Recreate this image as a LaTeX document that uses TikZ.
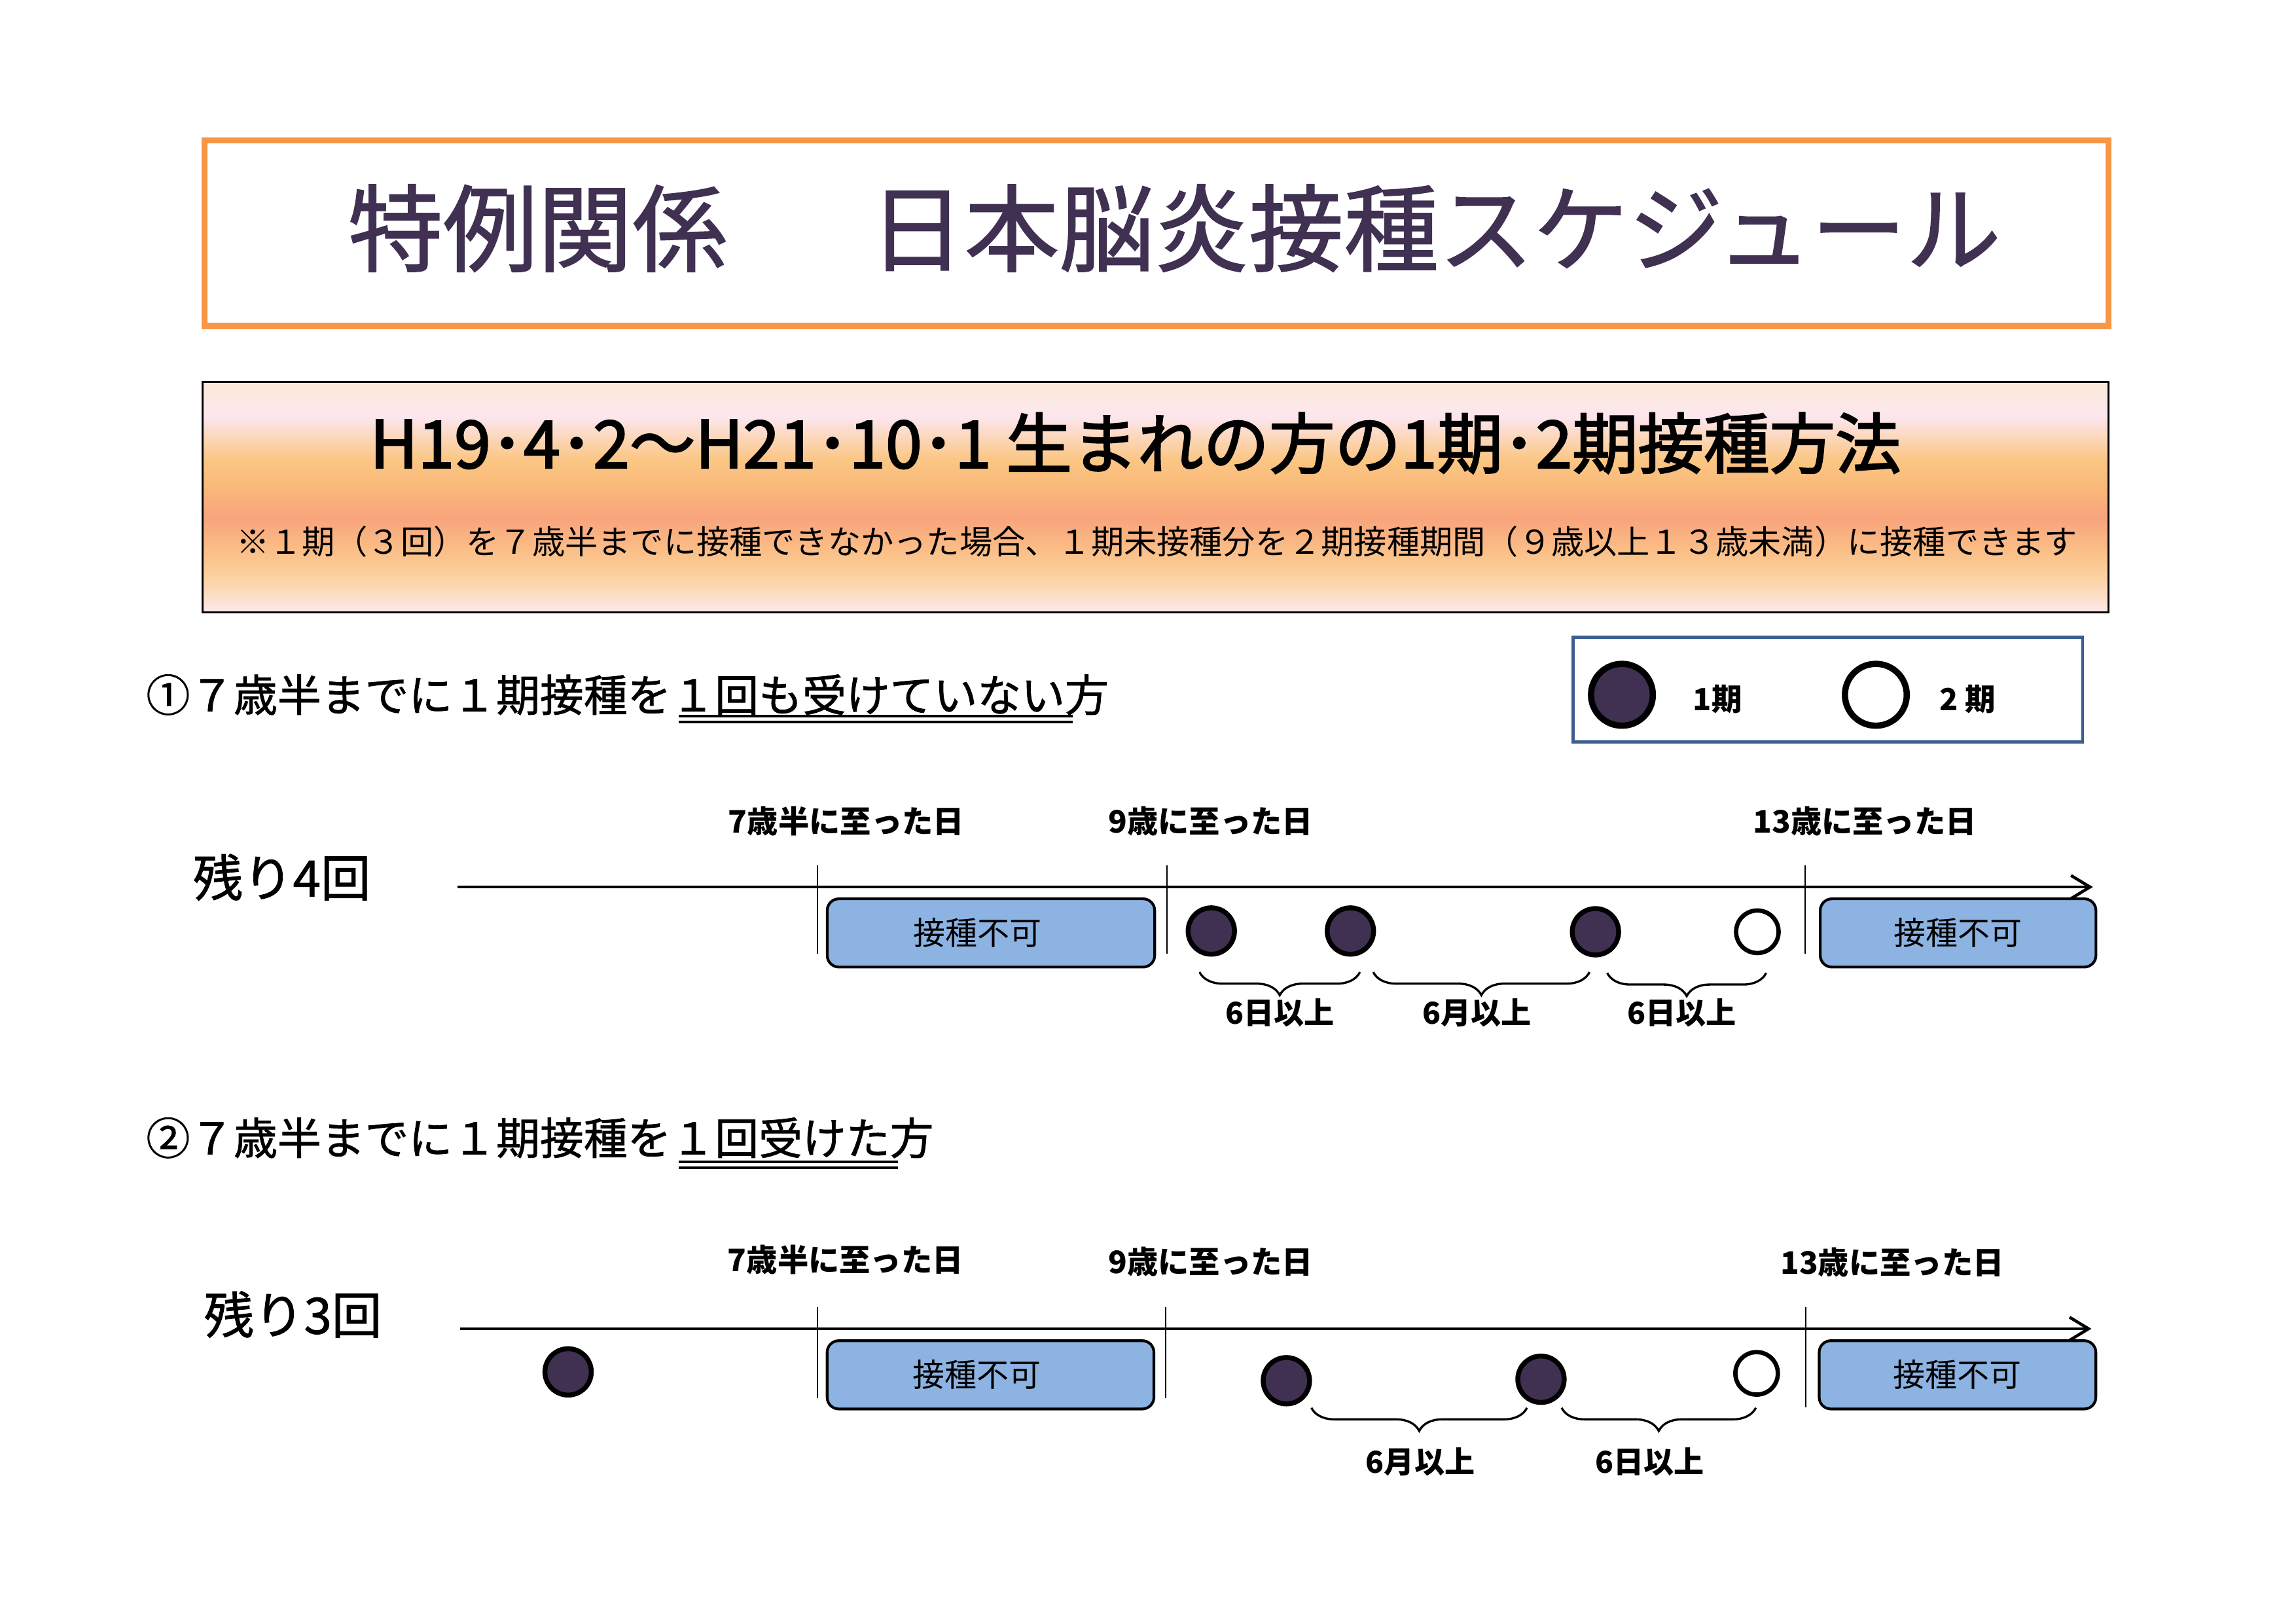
\documentclass[tikz,border=0pt]{standalone}
\usepackage{fontspec}
\setmainfont{Noto Sans CJK JP}
\newfontfamily\medfont[FakeBold=1.2]{Noto Sans CJK JP}
\newfontfamily\heavyfont[FakeBold=2.4]{Noto Sans CJK JP}
\usetikzlibrary{arrows.meta,decorations.pathreplacing}
\definecolor{titlepurple}{HTML}{403152}
\definecolor{frameorange}{HTML}{F79646}
\definecolor{legendblue}{HTML}{3B5E8F}
\definecolor{ngblue}{HTML}{8DB3E2}
\definecolor{sunA}{HTML}{FDE9EC}
\definecolor{sunB}{HTML}{FBD3A2}
\definecolor{sunC}{HTML}{FBBE86}
\definecolor{sunD}{HTML}{F8A47C}
\definecolor{sunE}{HTML}{FAB97A}
\definecolor{sunF}{HTML}{FBC683}
\definecolor{sunG}{HTML}{FCE6EE}
\definecolor{sunH}{HTML}{FCEAD8}
\pgfdeclareverticalshading{sunset}{100bp}{color(0bp)=(sunA); color(25bp)=(sunA); color(32.5bp)=(sunB); color(38.5bp)=(sunC); color(45.5bp)=(sunD); color(52.5bp)=(sunE); color(58bp)=(sunF); color(67.5bp)=(sunG); color(75bp)=(sunH); color(100bp)=(sunH)}
\begin{document}
\begin{tikzpicture}[x=0.19038mm, y=-0.19038mm,
	dot1/.style={circle, draw=black, line width=1.8pt, fill=titlepurple, minimum size=6.0mm, inner sep=0pt},
	dot2/.style={circle, draw=black, line width=1.6pt, fill=white, minimum size=5.5mm, inner sep=0pt},
	ngbox/.style={draw=black, line width=1pt, fill=ngblue, rounded corners=4.3pt, minimum height=8.83mm, inner sep=0pt, font=\fontsize{11.8}{14}\selectfont},
	agelabel/.style={font=\fontsize{11.4}{13}\selectfont\bfseries, inner sep=0pt},
	gaplabel/.style={font=\fontsize{11.1}{13}\selectfont\bfseries, inner sep=0pt},
	restlabel/.style={font=\fontsize{18.4}{22}\selectfont\medfont, inner sep=0pt},
	heading/.style={font=\fontsize{16.1}{20}\selectfont\medfont, anchor=west, inner sep=0pt},
	axis/.style={line width=1.1pt, -{Straight Barb[length=7pt,width=8.5pt]}},
	tick/.style={line width=0.55pt},
	gap/.style={line width=0.8pt, decorate, decoration={brace, mirror, amplitude=8.5pt}},
	uline/.style={line width=1pt}]
		\fill[white] (0,0) rectangle (1560,1103);
		\useasboundingbox (0,0) rectangle (1560,1103);
		\draw[draw=frameorange, line width=2.3pt] (139,95.3) rectangle (1432.5,221.5);
		\node[titlepurple, inner sep=0pt, font=\fontsize{34.9}{40}\selectfont\medfont] (title) at (798,155) {特例関係\hspace{1.5em}日本脳炎接種スケジュール};
		\shadedraw[shading=sunset, draw=black, line width=0.8pt] (137.6,259.4) rectangle (1432.5,416);
		\node[inner sep=0pt, font=\fontsize{24.2}{28}\selectfont\heavyfont] (subtitle) at (771.5,301) {H19･4･2～H21･10･1 生まれの方の1期･2期接種方法};
		\node[inner sep=0pt, font=\fontsize{12.1}{14}\selectfont] (note) at (786,368) {※１期（３回）を７歳半までに接種できなかった場合、１期未接種分を２期接種期間（９歳以上１３歳未満）に接種できます};
		\draw[draw=legendblue, line width=1.2pt] (1069,433) rectangle (1415,504);
		\node[dot1, line width=2.3pt, minimum size=8mm] (key1) at (1102,472) {};
		\node[gaplabel, font=\fontsize{11.2}{13}\selectfont\bfseries] (key1 text) at (1167,475) {1期};
		\node[dot2, line width=2.3pt, minimum size=8mm] (key2) at (1274.5,472) {};
		\node[gaplabel, font=\fontsize{11.2}{13}\selectfont\bfseries] (key2 text) at (1337,475) {2 期};
		\node[heading] (case1) at (99,472) {①７歳半までに１期接種を１回も受けていない方};
		\draw[uline] (461,486.5) -- (729,486.5);
		\draw[uline] (461,490.5) -- (729,490.5);
		\node[restlabel] (rest4) at (191.5,596) {残り4回};
		\node[agelabel] (age1a) at (575,558) {7歳半に至った日};
		\node[agelabel] (age1b) at (822.5,558) {9歳に至った日};
		\node[agelabel] (age1c) at (1267,558) {13歳に至った日};
		\coordinate (axis1 start) at (311,602.6);
		\coordinate (axis1 end) at (1422,602.6);
		\draw[axis] (axis1 start) -- (axis1 end);
		\draw[tick] (555.5,588) -- (555.5,648);
		\draw[tick] (793,588) -- (793,648);
		\draw[tick] (1226.5,588) -- (1226.5,648);
		\node[ngbox, minimum width=42.36mm] (ng1a) at (673.3,633.8) {接種不可\kern10pt};
		\node[ngbox, minimum width=35.66mm] (ng1b) at (1330.4,633.8) {接種不可};
		\node[dot1] (dose1a) at (823,632.5) {};
		\node[dot1] (dose1b) at (917.5,632.5) {};
		\node[dot1] (dose1c) at (1084,633) {};
		\node[dot2] (dose1d) at (1194,633) {};
		\coordinate (gap1a start) at (815,660.4);
		\coordinate (gap1a end) at (924,660.4);
		\coordinate (gap1b start) at (933,660.4);
		\coordinate (gap1b end) at (1080,660.4);
		\coordinate (gap1c start) at (1092,661);
		\coordinate (gap1c end) at (1200,661);
		\draw[gap] (gap1a start) -- (gap1a end);
		\draw[gap] (gap1b start) -- (gap1b end);
		\draw[gap] (gap1c start) -- (gap1c end);
		\node[gaplabel] (gap1a text) at (869.6,688) {6日以上};
		\node[gaplabel] (gap1b text) at (1003.6,688) {6月以上};
		\node[gaplabel] (gap1c text) at (1142.5,688) {6日以上};
		\node[heading] (case2) at (99,773) {②７歳半までに１期接種を１回受けた方};
		\draw[uline] (461,789.5) -- (610,789.5);
		\draw[uline] (461,793.5) -- (610,793.5);
		\node[restlabel] (rest3) at (199,893) {残り3回};
		\node[agelabel] (age2a) at (574.5,856) {7歳半に至った日};
		\node[agelabel] (age2b) at (822.5,857) {9歳に至った日};
		\node[agelabel] (age2c) at (1285.6,857.6) {13歳に至った日};
		\coordinate (axis2 start) at (312.6,902.7);
		\coordinate (axis2 end) at (1421,902.7);
		\draw[axis] (axis2 start) -- (axis2 end);
		\draw[tick] (555.5,888) -- (555.5,950);
		\draw[tick] (792,888) -- (792,950);
		\draw[tick] (1227,888) -- (1227,956);
		\node[ngbox, minimum width=42.27mm] (ng2a) at (673,934) {接種不可\kern10pt};
		\node[ngbox, minimum width=35.79mm] (ng2b) at (1330,934) {接種不可};
		\node[dot1] (dose2a) at (386,932) {};
		\node[dot1] (dose2b) at (874,938) {};
		\node[dot1] (dose2c) at (1047,937) {};
		\node[dot2] (dose2d) at (1193.5,933) {};
		\coordinate (gap2a start) at (891,956.4);
		\coordinate (gap2a end) at (1037.5,956.4);
		\coordinate (gap2b start) at (1061,956.4);
		\coordinate (gap2b end) at (1193,956.4);
		\draw[gap] (gap2a start) -- (gap2a end);
		\draw[gap] (gap2b start) -- (gap2b end);
		\node[gaplabel] (gap2a text) at (965,993) {6月以上};
		\node[gaplabel] (gap2b text) at (1121,993) {6日以上};
	\end{tikzpicture}
\end{document}
